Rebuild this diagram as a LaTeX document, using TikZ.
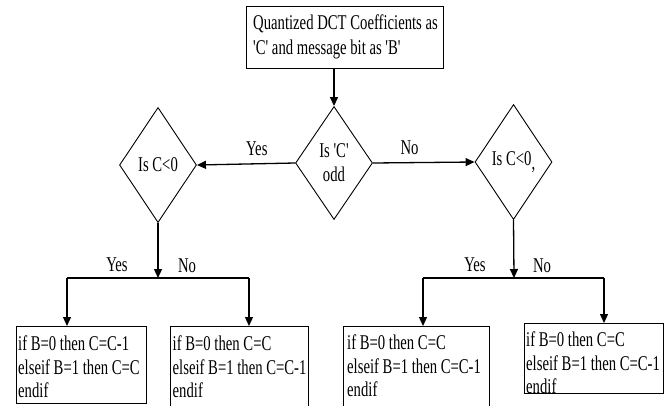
\documentclass[tikz,border=0pt]{standalone}
\usepackage{fontspec}
\newfontfamily\flowfont{Liberation Serif}[FakeStretch=0.70,Ligatures=TeXOff]
\usetikzlibrary{arrows.meta,shapes.geometric,calc}

\begin{document}
\begin{tikzpicture}[x=1pt,y=-1pt,
  every node/.style={font=\flowfont\fontsize{21}{24}\selectfont},
  arr/.style={line width=1.3pt,-{Triangle[length=9pt,width=8pt]}},
  plain/.style={line width=1.3pt},
  decision/.style={diamond,draw,line width=0.9pt,inner sep=0pt,
    minimum width=77pt,minimum height=115pt,align=center},
  box/.style={draw,line width=1.2pt,inner sep=0pt,anchor=north west},
  code/.style={anchor=north west,inner sep=0pt,align=left,
    font=\flowfont\fontsize{21}{23.5}\selectfont},
  lbl/.style={inner sep=0pt}]

\useasboundingbox (0,0) rectangle (668,405);

% input box
\node[box,minimum width=197pt,minimum height=62pt] (top) at (246,6) {};
\node[code,font=\flowfont\fontsize{21}{25}\selectfont] (toptext) at (253,14.7)
  {Quantized DCT Coefficients as\\'C' and message bit as 'B'};

% decisions
\node[decision,minimum height=113pt] (odd) at (334,163) {Is 'C'\\odd};
\node[decision] (lneg) at (158,165) {Is C<0};
\node[decision] (rneg) at (513.5,162) {Is C<0\raisebox{-4pt}{,}};

\draw[arr] (odd.north |- top.south) -- (odd.north);
\draw[arr] (odd.west) -- node[lbl,pos=0.39,above=7pt] (yes1) {Yes} (lneg.east);
\draw[arr] (odd.east) -- node[lbl,pos=0.36,above=7pt] (no1) {No} (rneg.west);

% result boxes
\node[box,minimum width=130pt,minimum height=77pt] (b1) at (16,326) {};
\node[box,minimum width=138pt,minimum height=82pt] (b2) at (170,326) {};
\node[box,minimum width=146pt,minimum height=82pt] (b3) at (343,326) {};
\node[box,minimum width=139pt,minimum height=70pt] (b4) at (524,323) {};

\node[code] (t1) at (18,335.7) {if B=0 then C=C-1\\elseif B=1 then C=C\\endif};
\node[code] (t2) at (172.5,335.7) {if B=0 then C=C\\elseif B=1 then C=C-1\\endif};
\node[code] (t3) at (347,334.7) {if B=0 then C=C\\elseif B=1 then C=C-1\\endif};
\node[code] (t4) at (526,331.7) {if B=0 then C=C\\elseif B=1 then C=C-1\\endif};

% left branch
\coordinate (lj) at (158,278);
\coordinate (ly) at (67,278);
\coordinate (ln) at (249,278);
\draw[arr] (lneg.south) -- (lj);
\draw[plain] (ly) -- (ln);
\draw[arr] (ly) -- (ly |- b1.north);
\draw[arr] (ln) -- (ln |- b2.north);
\node[lbl] (yes2) at (117,265) {Yes};
\node[lbl] (no2) at (187,266) {No};

% right branch
\coordinate (rj) at (514,278);
\coordinate (ry) at (423,278);
\coordinate (rn) at (604,278);
\draw[arr] (rneg.south) -- (rj);
\draw[plain] (ry) -- (rn);
\draw[arr] (ry) -- (ry |- b3.north);
\draw[arr] (rn) -- (rn |- b4.north);
\node[lbl] (yes3) at (475,265) {Yes};
\node[lbl] (no3) at (542,266) {No};
\end{tikzpicture}
\end{document}
